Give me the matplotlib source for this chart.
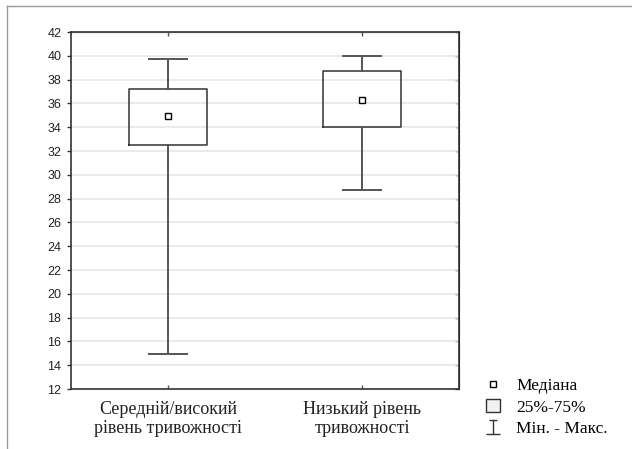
import numpy as np
import matplotlib
matplotlib.use("Agg")
import matplotlib.pyplot as plt
from matplotlib.lines import Line2D
from matplotlib.patches import Patch
from matplotlib.path import Path

groups = ["Середній/високий\nрівень тривожності", "Низький рівень\nтривожності"]
medians = [34.9, 36.3]
q1 = [32.5, 34.05]
q3 = [37.2, 38.75]
mins = [14.9, 28.7]
maxs = [39.7, 40.0]

ticks = np.arange(12, 43, 2)

fig = plt.figure(figsize=(6.32, 4.49), dpi=100)
ax = fig.add_axes([71/632, 1 - 389/449, 388/632, 357/449])

stats = []
for i in range(len(groups)):
    stats.append({"med": medians[i], "q1": q1[i], "q3": q3[i],
                  "whislo": mins[i], "whishi": maxs[i], "fliers": []})

pos = np.arange(1, len(groups) + 1)
ax.bxp(stats, positions=pos, widths=0.4, capwidths=0.2, showfliers=False,
       boxprops=dict(color="#333333", linewidth=1.1),
       whiskerprops=dict(color="#555555", linewidth=1.4),
       capprops=dict(color="#555555", linewidth=1.4),
       medianprops=dict(visible=False))
ax.plot(pos, medians, linestyle="none", marker="s", markersize=4.5,
        markerfacecolor="white", markeredgecolor="black", markeredgewidth=1.0, zorder=5)

ax.set_xlim(0.5, 2.5)
ax.set_ylim(12, 42)
ax.set_yticks(ticks)
ax.set_yticklabels([str(t) for t in ticks], fontsize=9, family="Liberation Sans", color="#222222")
ax.set_xticks(pos)
ax.set_xticklabels(groups, fontsize=13, family="Liberation Serif", color="#222222",
                   linespacing=1.1)
ax.grid(axis="y", color="#e6e6e6", linewidth=1.2)
ax.set_axisbelow(True)
for s in ax.spines.values():
    s.set_color("#333333")
    s.set_linewidth(1.2)
ax.tick_params(axis="y", direction="out", length=3, width=1, color="#333333", pad=4)
ax.tick_params(axis="x", direction="in", length=3, width=1, color="#555555", pad=9)

ry = ax.secondary_yaxis("right")
ry.set_yticks(ticks)
ry.tick_params(direction="in", length=3, width=1, color="#333333", labelright=False)
tx = ax.secondary_xaxis("top")
tx.set_xticks(pos)
tx.tick_params(direction="in", length=3, width=1, color="#555555", labeltop=False)

# I-beam marker for min-max legend entry
ibeam = Path([(-0.25, 0.5), (0.25, 0.5), (0, 0.5), (0, -0.5), (-0.5, -0.5), (0.5, -0.5)],
             [Path.MOVETO, Path.LINETO, Path.MOVETO, Path.LINETO, Path.MOVETO, Path.LINETO])
handles = [
    Line2D([], [], linestyle="none", marker="s", markersize=4,
           markerfacecolor="white", markeredgecolor="black"),
    Patch(facecolor="#f2f2f2", edgecolor="#333333", linewidth=1),
    Line2D([], [], linestyle="none", marker=ibeam, markersize=10.5,
           markeredgecolor="#333333", markeredgewidth=1),
]
fig.legend(handles, ["Медіана", "25%-75%", "Мін. - Макс."], loc="upper left",
           bbox_to_anchor=(470/632, 1 - 362/449), frameon=False,
           prop={"family": "Liberation Serif", "size": 12.5},
           handlelength=0.82, handleheight=0.82, handletextpad=0.95, labelspacing=0.26)

# outer frame (top and left)
fig.add_artist(Line2D([7/632, 1], [1 - 6/449, 1 - 6/449], transform=fig.transFigure,
                      color="#999999", linewidth=1))
fig.add_artist(Line2D([7/632, 7/632], [0, 1 - 6/449], transform=fig.transFigure,
                      color="#999999", linewidth=1))

fig.savefig("out.png", dpi=100)
